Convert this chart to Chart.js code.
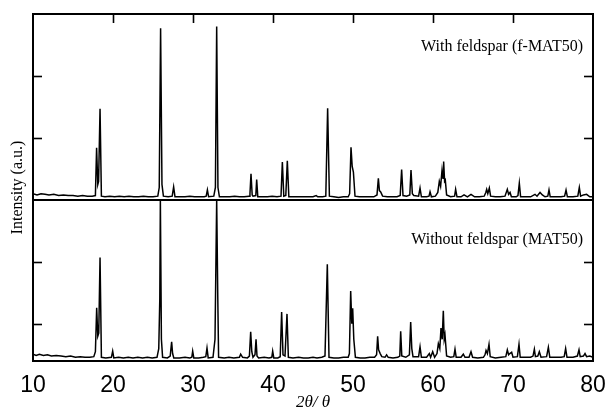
<!DOCTYPE html>
<html><head><meta charset="utf-8">
<script src="https://cdn.jsdelivr.net/npm/chart.js@4/dist/chart.umd.min.js"></script>
<style>html,body{margin:0;padding:0;background:#fff}</style>
</head><body>
<canvas id="c" width="607" height="409"></canvas>
<script>
// ---- data (2θ in degrees, intensity in arbitrary units, each pattern from its own baseline) ----
const seriesNames = ["With feldspar (f-MAT50)", "Without feldspar (MAT50)"];
const xTickLabels = [10, 20, 30, 40, 50, 60, 70, 80];
const panelTicks = [1, 2];          // intensity tick marks inside each panel (a.u.)
const bottomPanelSpan = 2.6;        // a.u. shown in the lower panel
const topPanelSpan = 3.0;           // a.u. shown in the upper panel

const withFeldspar = [
[10.0,0.10],[10.5,0.08],[11.0,0.10],[11.5,0.09],[12.0,0.08],[12.6,0.09],[13.2,0.07],[13.8,0.08],
[14.4,0.07],[15.0,0.07],[15.6,0.06],[16.2,0.07],[16.8,0.06],[17.4,0.06],[17.8,0.07],[17.95,0.84],
[18.1,0.25],[18.2,0.30],[18.38,1.47],[18.55,0.06],[19.0,0.05],[19.6,0.06],[20.2,0.05],[20.8,0.06],
[21.4,0.05],[22.0,0.06],[22.6,0.05],[23.2,0.05],[23.8,0.06],[24.4,0.05],[25.0,0.05],[25.6,0.06],
[25.78,0.20],[25.95,2.77],[26.12,0.25],[26.3,0.06],[26.9,0.05],[27.4,0.06],[27.58,0.21],[27.75,0.05],
[28.4,0.05],[29.0,0.05],[29.6,0.06],[30.2,0.05],[30.8,0.05],[31.4,0.05],[31.65,0.06],[31.8,0.16],
[31.95,0.05],[32.6,0.06],[32.8,0.20],[32.96,2.80],[33.12,0.20],[33.3,0.05],[34.0,0.05],[34.6,0.05],
[35.2,0.06],[35.8,0.05],[36.4,0.05],[37.0,0.06],[37.12,0.10],[37.25,0.42],[37.4,0.08],[37.5,0.06],
[37.85,0.07],[37.96,0.33],[38.1,0.05],[38.7,0.05],[39.3,0.05],[39.9,0.06],[40.5,0.05],[41.0,0.06],
[41.17,0.61],[41.35,0.06],[41.6,0.07],[41.79,0.63],[41.98,0.05],[42.6,0.05],[43.2,0.05],[43.8,0.05],
[44.4,0.05],[45.0,0.05],[45.4,0.07],[45.6,0.05],[46.2,0.05],[46.6,0.06],[46.83,1.48],[47.05,0.06],
[47.6,0.05],[48.2,0.04],[48.8,0.05],[49.4,0.05],[49.58,0.10],[49.75,0.85],[49.9,0.54],[50.05,0.45],
[50.25,0.06],[50.8,0.05],[51.4,0.05],[52.0,0.05],[52.6,0.05],[53.0,0.08],[53.17,0.35],[53.3,0.15],
[53.46,0.13],[53.7,0.06],[54.3,0.05],[54.9,0.05],[55.5,0.05],[55.9,0.07],[56.08,0.49],[56.25,0.07],
[56.7,0.06],[57.1,0.08],[57.25,0.48],[57.42,0.10],[57.6,0.07],[58.2,0.06],[58.38,0.19],[58.55,0.05],
[59.2,0.05],[59.5,0.06],[59.63,0.13],[59.8,0.05],[60.3,0.06],[60.6,0.12],[60.79,0.30],[60.95,0.22],
[61.13,0.48],[61.25,0.35],[61.33,0.62],[61.45,0.30],[61.54,0.32],[61.7,0.08],[62.2,0.05],[62.7,0.06],
[62.83,0.17],[63.0,0.05],[63.5,0.05],[63.88,0.08],[64.3,0.05],[64.75,0.09],[65.2,0.05],[65.8,0.05],
[66.4,0.06],[66.6,0.12],[66.71,0.17],[66.85,0.10],[67.04,0.19],[67.2,0.06],[67.8,0.05],[68.4,0.05],
[69.0,0.06],[69.29,0.17],[69.45,0.09],[69.63,0.12],[69.8,0.05],[70.4,0.05],[70.62,0.07],[70.79,0.27],
[70.95,0.05],[71.6,0.05],[72.2,0.05],[72.75,0.09],[73.0,0.06],[73.38,0.12],[73.67,0.08],[74.0,0.05],
[74.35,0.06],[74.5,0.16],[74.65,0.05],[75.3,0.05],[76.0,0.05],[76.45,0.06],[76.63,0.16],[76.8,0.05],
[77.5,0.05],[78.1,0.06],[78.29,0.20],[78.45,0.06],[78.8,0.08],[79.2,0.09],[79.6,0.05],[80.0,0.05]
];

const withoutFeldspar = [
[10.0,0.11],[10.4,0.09],[10.8,0.11],[11.3,0.09],[11.8,0.10],[12.3,0.08],[12.9,0.09],[13.5,0.08],
[14.1,0.07],[14.7,0.08],[15.3,0.06],[15.9,0.07],[16.5,0.06],[17.1,0.06],[17.6,0.07],[17.8,0.15],
[17.96,0.86],[18.1,0.40],[18.22,0.45],[18.38,1.67],[18.55,0.06],[19.1,0.05],[19.8,0.06],[19.96,0.16],
[20.1,0.05],[20.7,0.06],[21.3,0.05],[21.9,0.06],[22.5,0.05],[23.1,0.06],[23.7,0.05],[24.3,0.06],
[24.9,0.05],[25.5,0.06],[25.72,0.20],[25.85,1.00],[25.92,2.60],[26.05,0.35],[26.2,0.06],[26.8,0.05],
[27.15,0.08],[27.33,0.31],[27.45,0.12],[27.6,0.05],[28.3,0.05],[29.0,0.06],[29.6,0.05],[29.85,0.06],
[29.96,0.16],[30.1,0.05],[30.7,0.05],[31.3,0.06],[31.6,0.07],[31.75,0.21],[31.9,0.05],[32.5,0.06],
[32.75,0.35],[32.96,2.60],[33.1,1.00],[33.2,0.06],[33.9,0.05],[34.5,0.06],[35.1,0.05],[35.8,0.06],
[35.96,0.11],[36.2,0.06],[36.8,0.05],[37.05,0.08],[37.21,0.47],[37.35,0.15],[37.5,0.06],[37.75,0.10],
[37.88,0.35],[38.0,0.08],[38.2,0.05],[38.9,0.06],[39.5,0.05],[39.85,0.06],[39.96,0.16],[40.1,0.05],
[40.6,0.05],[40.9,0.07],[41.08,0.79],[41.25,0.10],[41.5,0.08],[41.75,0.76],[41.92,0.06],[42.5,0.05],
[43.2,0.06],[43.8,0.05],[44.4,0.05],[45.0,0.06],[45.5,0.05],[46.1,0.06],[46.5,0.08],[46.79,1.56],
[47.0,0.06],[47.6,0.05],[48.2,0.05],[48.8,0.06],[49.4,0.06],[49.55,0.12],[49.71,1.13],[49.85,0.60],
[49.96,0.85],[50.1,0.35],[50.3,0.06],[50.9,0.05],[51.5,0.05],[52.1,0.06],[52.7,0.06],[52.95,0.10],
[53.08,0.40],[53.2,0.18],[53.4,0.12],[53.6,0.07],[54.0,0.06],[54.2,0.10],[54.4,0.06],[55.0,0.05],
[55.6,0.06],[55.85,0.08],[55.96,0.48],[56.1,0.08],[56.6,0.06],[57.05,0.10],[57.21,0.63],[57.35,0.20],
[57.5,0.07],[58.2,0.07],[58.38,0.23],[58.55,0.06],[59.2,0.06],[59.54,0.12],[59.7,0.06],[59.96,0.15],
[60.2,0.06],[60.5,0.12],[60.67,0.28],[60.85,0.20],[61.0,0.53],[61.15,0.35],[61.29,0.81],[61.4,0.35],
[61.5,0.42],[61.7,0.08],[62.2,0.06],[62.6,0.07],[62.75,0.19],[62.9,0.06],[63.5,0.06],[63.79,0.11],
[64.0,0.06],[64.5,0.06],[64.75,0.15],[64.95,0.06],[65.6,0.05],[66.3,0.06],[66.5,0.10],[66.63,0.17],
[66.8,0.12],[67.0,0.27],[67.15,0.07],[67.8,0.05],[68.5,0.06],[69.1,0.07],[69.29,0.18],[69.45,0.10],
[69.6,0.12],[69.83,0.14],[70.0,0.06],[70.55,0.07],[70.75,0.27],[70.9,0.06],[71.6,0.06],[72.2,0.06],
[72.5,0.08],[72.67,0.19],[72.8,0.07],[73.1,0.08],[73.29,0.15],[73.5,0.06],[74.2,0.07],[74.42,0.22],
[74.6,0.06],[75.3,0.06],[76.0,0.06],[76.4,0.07],[76.58,0.20],[76.75,0.06],[77.5,0.06],[78.05,0.08],
[78.25,0.18],[78.4,0.07],[78.8,0.08],[79.0,0.12],[79.2,0.07],[79.6,0.08],[80.0,0.06]
];

// ---- build chart ----
const split = bottomPanelSpan;                // upper pattern starts at the top of the lower panel
const yMax = bottomPanelSpan + topPanelSpan;
const toPts = (arr, off) => arr.map(p => ({ x: p[0], y: p[1] + off }));
const yTickValues = [
  ...panelTicks.map(t => split - t),         // lower panel ticks, measured down from its top
  ...panelTicks.map(t => split + t)          // upper panel ticks, from its baseline
];

const framePlugin = {
  id: 'frame',
  afterDatasetsDraw(chart) {
    const { ctx, chartArea: a, scales: { x, y } } = chart;
    const line = (x1, y1, x2, y2) => { ctx.beginPath(); ctx.moveTo(x1, y1); ctx.lineTo(x2, y2); ctx.stroke(); };
    ctx.save();
    ctx.strokeStyle = '#000';
    ctx.lineWidth = 2;
    ctx.strokeRect(a.left, a.top, a.right - a.left, a.bottom - a.top);
    const yd = y.getPixelForValue(split);
    line(a.left, yd, a.right, yd);
    ctx.lineWidth = 1.6;
    yTickValues.forEach(v => {
      const py = Math.round(y.getPixelForValue(v)) + 0.5;
      line(a.left, py, a.left + 9, py);
      line(a.right, py, a.right - 9, py);
    });
    xTickLabels.slice(1, -1).forEach(v => {
      const px = Math.round(x.getPixelForValue(v)) + 0.5;
      line(px, a.top, px, a.top + 9);
    });
    ctx.fillStyle = '#000';
    ctx.font = '16px "Liberation Serif"';
    ctx.textAlign = 'right';
    ctx.textBaseline = 'middle';
    ctx.fillText(seriesNames[0], a.right - 10, a.top + 33);
    ctx.fillText(seriesNames[1], a.right - 10, yd + 40);
    ctx.restore();
  }
};

new Chart(document.getElementById('c'), {
  type: 'line',
  data: {
    datasets: [
      { label: seriesNames[0], data: toPts(withFeldspar, split), borderColor: '#000', borderWidth: 1.5, pointRadius: 0, tension: 0, fill: false },
      { label: seriesNames[1], data: toPts(withoutFeldspar, 0), borderColor: '#000', borderWidth: 1.5, pointRadius: 0, tension: 0, fill: false }
    ]
  },
  options: {
    responsive: false,
    animation: false,
    devicePixelRatio: 1,
    layout: { padding: { top: 14, right: 14, left: 0, bottom: 0 } },
    plugins: { legend: { display: false }, tooltip: { enabled: false } },
    scales: {
      x: {
        type: 'linear', min: 10, max: 80,
        afterBuildTicks: s => { s.ticks = xTickLabels.map(v => ({ value: v })); },
        afterFit: s => { s.height = 48; s.paddingLeft = 0; s.paddingRight = 0; },
        grid: { display: false },
        border: { display: false },
        ticks: { color: '#000', padding: 3, font: { family: '"Liberation Sans", Arial', size: 23 }, maxRotation: 0 },
        title: { display: true, text: '2θ/ θ', color: '#000', padding: { top: 0, bottom: 0 },
                 font: { family: '"Liberation Serif"', size: 17, style: 'italic', lineHeight: 0.8 } }
      },
      y: {
        type: 'linear', min: 0, max: yMax,
        afterFit: s => { s.width = 33; },
        grid: { display: false },
        border: { display: false },
        ticks: { display: false },
        title: { display: true, text: 'Intensity (a.u.)', color: '#000', padding: { top: 10, bottom: 0 },
                 font: { family: '"Liberation Serif"', size: 16, lineHeight: 1 } }
      }
    }
  },
  plugins: [framePlugin]
});
</script>
</body></html>
